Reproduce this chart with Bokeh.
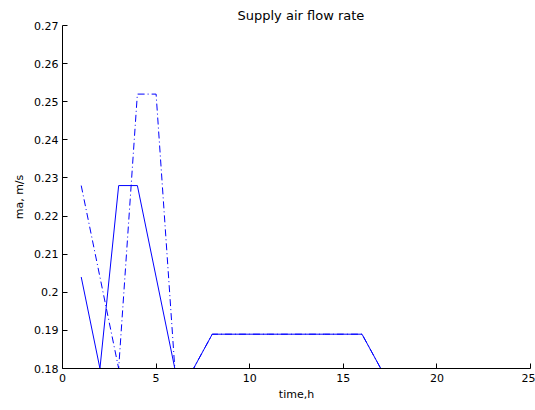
from bokeh.plotting import figure
from bokeh.models import FixedTicker, Range1d
from bokeh.embed import file_html
from bokeh.resources import INLINE

hours = list(range(1, 25))
ma_solid = [0.204, 0.18, 0.228, 0.228, 0.204, 0.18, 0.18, 0.189, 0.189, 0.189,
            0.189, 0.189, 0.189, 0.189, 0.189, 0.189, 0.18, 0.18, 0.18, 0.18,
            0.18, 0.18, 0.18, 0.18]
ma_dashdot = [0.228, 0.204, 0.18, 0.252, 0.252, 0.18, 0.18, 0.189, 0.189, 0.189,
              0.189, 0.189, 0.189, 0.189, 0.189, 0.189, 0.18, 0.18, 0.18, 0.18,
              0.18, 0.18, 0.18, 0.18]
x_ticks = [0, 5, 10, 15, 20, 25]
y_ticks = [0.18, 0.19, 0.20, 0.21, 0.22, 0.23, 0.24, 0.25, 0.26, 0.27]
y_tick_labels = ["0.18", "0.19", "0.2", "0.21", "0.22", "0.23", "0.24", "0.25", "0.26", "0.27"]
title_text = "Supply air flow rate"

FONT = "DejaVu Sans"

p = figure(width=535, height=410, output_backend="svg", toolbar_location=None,
           x_range=Range1d(0, 25), y_range=Range1d(0.18, 0.27),
           min_border_left=62, min_border_right=5, min_border_top=25, min_border_bottom=42,
           title=title_text)
p.outline_line_color = None
p.grid.visible = False
p.background_fill_color = "white"
p.border_fill_color = "white"

p.title.align = "left"
p.title.offset = 175
p.title.standoff = 6
p.title.text_font = FONT
p.title.text_font_size = "13px"
p.title.text_font_style = "normal"
p.title.text_color = "#000000"

p.line(hours, ma_solid, line_color="#0000ff", line_width=1)
p.line(hours, ma_dashdot, line_color="#0000ff", line_width=1, line_dash="7 3 1 3")

for ax in (p.xaxis[0], p.yaxis[0]):
    ax.axis_line_color = "#000000"
    ax.major_tick_line_color = "#000000"
    ax.major_tick_in = 5
    ax.major_tick_out = 0
    ax.minor_tick_line_color = None
    ax.major_label_text_font = FONT
    ax.major_label_text_font_size = "11px"
    ax.major_label_text_color = "#000000"
    ax.axis_label_text_font = FONT
    ax.axis_label_text_font_size = "11px"
    ax.axis_label_text_font_style = "normal"
    ax.axis_label_text_color = "#000000"

p.xaxis.ticker = FixedTicker(ticks=x_ticks)
p.yaxis.ticker = FixedTicker(ticks=y_ticks)
p.yaxis.major_label_overrides = {t: l for t, l in zip(y_ticks, y_tick_labels)}
p.xaxis.axis_label = "time,h"
p.yaxis.axis_label = "ma, m/s"
p.xaxis.major_label_standoff = 5
p.xaxis.axis_label_standoff = 3
p.yaxis.major_label_standoff = 4
p.yaxis.axis_label_standoff = 5

open("out.html", "w").write(file_html(p, INLINE))
